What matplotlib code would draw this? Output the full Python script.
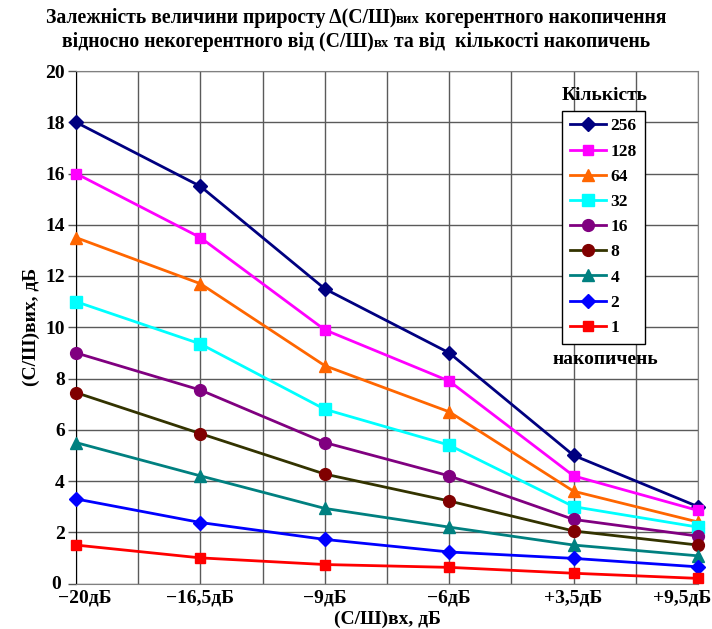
import matplotlib
matplotlib.use("Agg")
import matplotlib.pyplot as plt
from matplotlib.transforms import ScaledTranslation

plt.rcParams['font.family'] = ['Liberation Serif', 'DejaVu Serif']
plt.rcParams['font.weight'] = 'bold'

# Input SNR categories
categories = ['\u221220дБ', '\u221216,5дБ', '\u22129дБ', '\u22126дБ', '+3,5дБ', '+9,5дБ']

# Output SNR for each number of accumulations
n256 = [18.0, 15.5, 11.5, 9.0, 5.0, 3.0]
n128 = [16.0, 13.5, 9.9, 7.9, 4.2, 2.85]
n64 = [13.5, 11.7, 8.5, 6.7, 3.6, 2.4]
n32 = [11.0, 9.35, 6.8, 5.4, 3.0, 2.2]
n16 = [9.0, 7.55, 5.5, 4.2, 2.5, 1.85]
n8 = [7.45, 5.85, 4.27, 3.22, 2.05, 1.5]
n4 = [5.5, 4.2, 2.93, 2.2, 1.5, 1.08]
n2 = [3.3, 2.38, 1.72, 1.23, 0.98, 0.65]
n1 = [1.5, 1.0, 0.74, 0.63, 0.4, 0.2]

series_labels = ['256', '128', '64', '32', '16', '8', '4', '2', '1']
series_values = [n256, n128, n64, n32, n16, n8, n4, n2, n1]
line_colors = ['#000080', '#FF00FF', '#FF6600', '#00FFFF', '#800080',
               '#333300', '#008080', '#0000FF', '#FF0000']
marker_colors = ['#000080', '#FF00FF', '#FF6600', '#00FFFF', '#800080',
                 '#800000', '#008080', '#0000FF', '#FF0000']
markers = ['D', 's', '^', 's', 'o', 'o', '^', 'D', 's']
marker_sizes = [7.5, 7.5, 8.5, 8.5, 8.5, 8.5, 8.5, 7.5, 7.5]

W, H = 712, 629
fig = plt.figure(figsize=(W / 100, H / 100), dpi=100)
ax = fig.add_axes([76 / W, 1 - 583.5 / H, (698 - 76) / W, (583.5 - 71) / H])

x = list(range(len(categories)))
handles = []
for lab, vals, lc, mc, mk, ms in zip(series_labels, series_values, line_colors,
                                     marker_colors, markers, marker_sizes):
    h, = ax.plot(x, vals, color=lc, lw=2, marker=mk, ms=ms,
                 markerfacecolor=mc, markeredgecolor=mc, label=lab,
                 clip_on=False, zorder=3)
    handles.append(h)

ax.set_xlim(0, len(categories) - 1)
ax.set_ylim(0, 20)
ax.set_yticks(range(0, 21, 2))
ax.set_xticks(x)
ax.set_xticklabels(categories)
ax.set_xticks([i + 0.5 for i in x[:-1]], minor=True)
ax.grid(True, which='both', color='#5a5a5a', lw=1)
ax.set_axisbelow(True)
ax.tick_params(axis='x', which='both', length=0, pad=4, labelsize=14)
ax.tick_params(axis='y', length=6, width=1, color='#555555', labelsize=14, pad=2)
for lbl in ax.get_xticklabels() + ax.get_yticklabels():
    lbl.set_fontweight('bold')
for s in ['top', 'right', 'bottom']:
    ax.spines[s].set_color('#808080')
ax.spines['left'].set_color('black')

# keep the end category labels inside the figure
xt = ax.get_xticklabels()
xt[0].set_transform(xt[0].get_transform() + ScaledTranslation(9 / 100, 0, fig.dpi_scale_trans))
xt[-1].set_horizontalalignment('right')
xt[-1].set_transform(xt[-1].get_transform() + ScaledTranslation(13 / 100, 0, fig.dpi_scale_trans))
yt = ax.get_yticklabels()
yt[0].set_transform(yt[0].get_transform() + ScaledTranslation(-4 / 100, 1 / 100, fig.dpi_scale_trans))

ax.set_xlabel('(С/Ш)вх, дБ', fontsize=14, fontweight='bold', labelpad=3)
ax.set_ylabel('(С/Ш)вих, дБ', fontsize=14, fontweight='bold', labelpad=4)

leg = ax.legend(handles=handles, loc='upper left',
                bbox_to_anchor=(562 / W, 1 - 110.5 / H),
                bbox_transform=fig.transFigure, frameon=True, fancybox=False,
                edgecolor='black', framealpha=1,
                prop={'weight': 'bold', 'size': 12.5},
                handlelength=2.1, handletextpad=0.25, labelspacing=0.52,
                borderpad=0.45, borderaxespad=0)
leg.get_frame().set_linewidth(1)

fig.text(605 / W, 1 - 95 / H, 'Кількість', ha='center', va='center',
         fontsize=14, fontweight='bold')
fig.text(605 / W, 1 - 359 / H, 'накопичень', ha='center', va='center',
         fontsize=14, fontweight='bold')

# Two-line title with the small "вих" / "вх" subscripts set inline
line1 = [('Залежність величини приросту \u0394(С/Ш)', 14.2), ('вих', 10.5),
         (' когерентного накопичення', 14.2)]
line2 = [('відносно некогерентного від (С/Ш)', 14.2), ('вх', 10.5),
         (' та від  кількості накопичень', 14.2)]
fig.canvas.draw()
renderer = fig.canvas.get_renderer()
for parts, yb in [(line1, 1 - 23 / H), (line2, 1 - 47 / H)]:
    texts = []
    for s, fs in parts:
        t = fig.text(0, yb, s, fontsize=fs, fontweight='bold', va='baseline',
                     ha='left')
        texts.append(t)
    widths = [t.get_window_extent(renderer).width for t in texts]
    total = sum(widths)
    x0 = (W / 2 - total / 2)
    for t, w in zip(texts, widths):
        t.set_x(x0 / W)
        x0 += w

fig.savefig('out.png', dpi=100)
